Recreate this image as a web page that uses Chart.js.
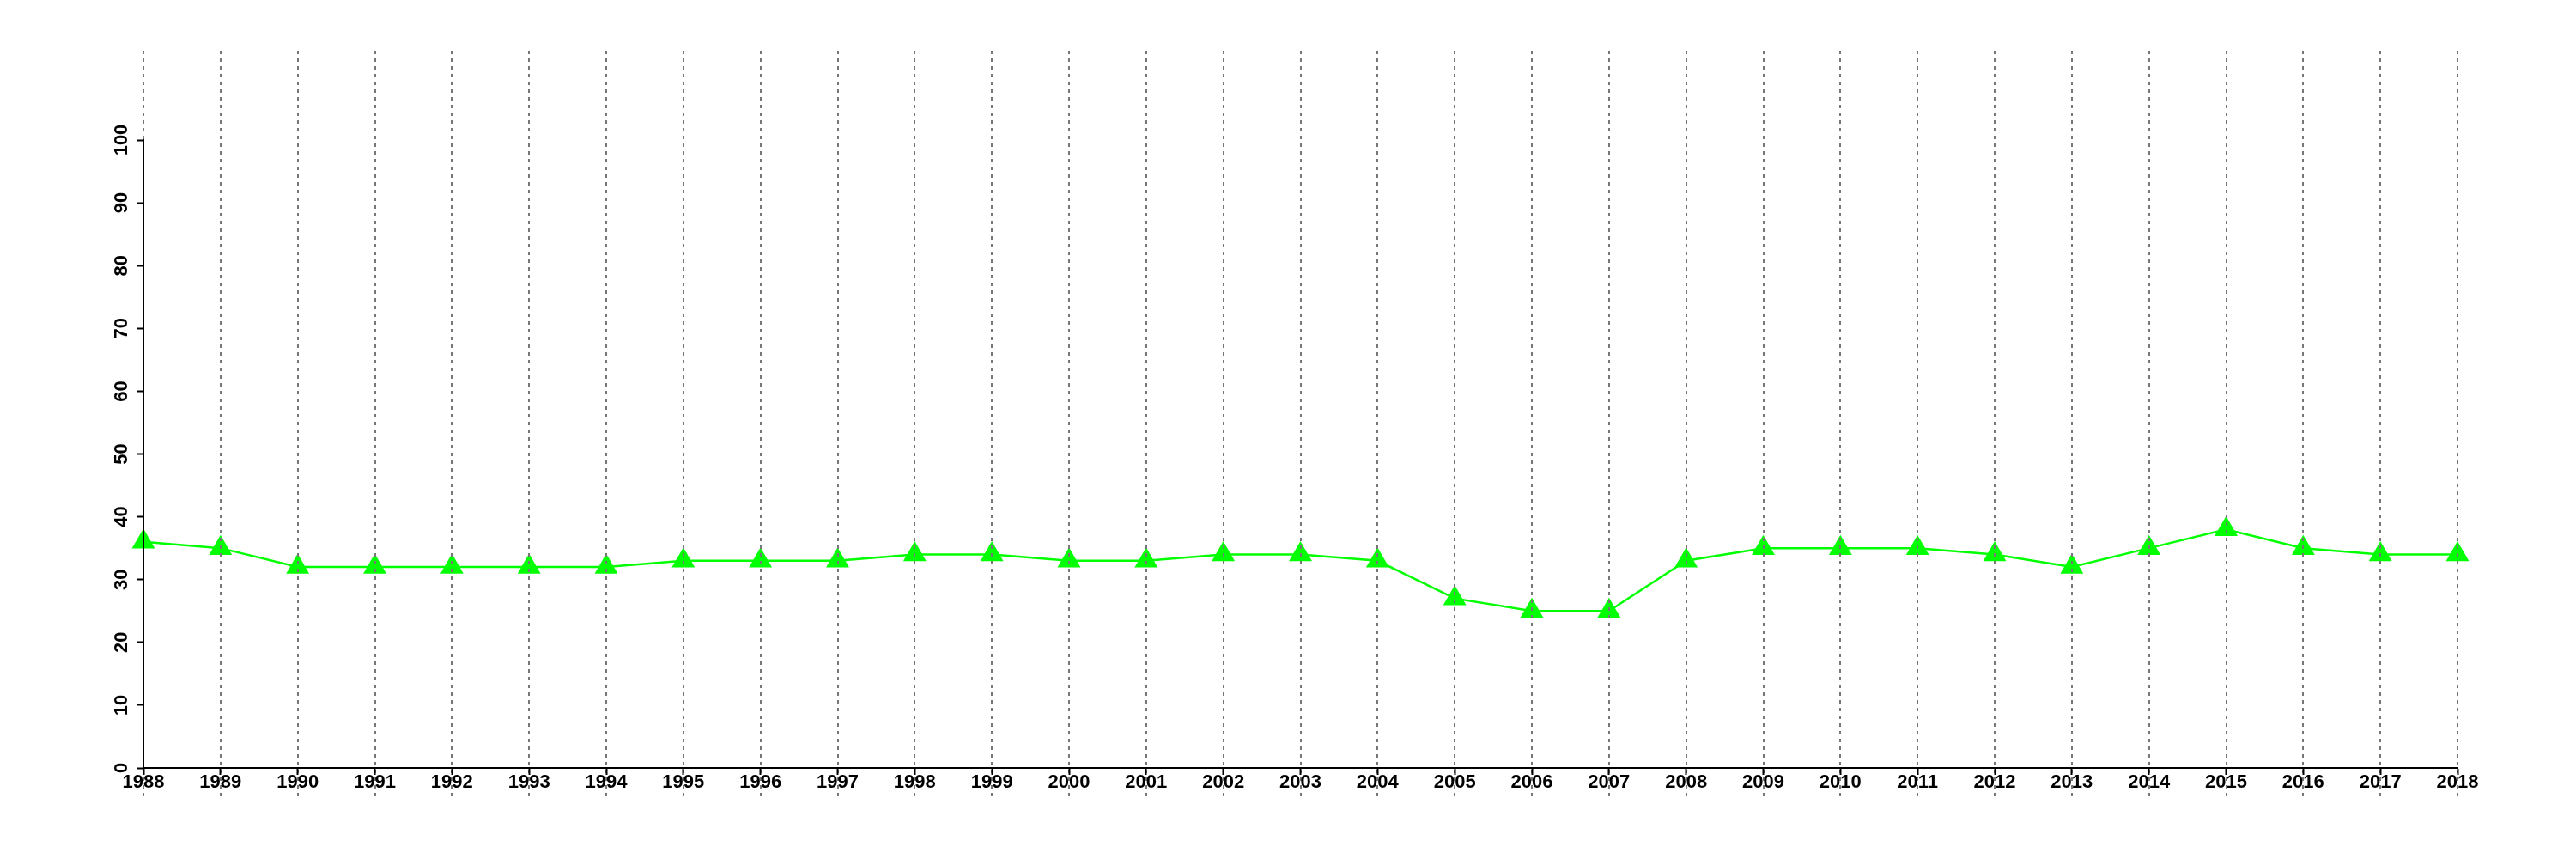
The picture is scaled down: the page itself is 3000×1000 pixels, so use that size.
<!DOCTYPE html>
<html>
<head>
<meta charset="utf-8">
<script src="https://cdn.jsdelivr.net/npm/chart.js@4/dist/chart.umd.min.js"></script>
<style>
  html, body { margin: 0; padding: 0; background: #ffffff; }
  #wrap { width: 3000px; height: 1000px; }
</style>
</head>
<body>
<div id="wrap"><canvas id="c" width="3000" height="1000"></canvas></div>
<script>
const years = ['1988','1989','1990','1991','1992','1993','1994','1995','1996','1997','1998','1999','2000','2001','2002','2003','2004','2005','2006','2007','2008','2009','2010','2011','2012','2013','2014','2015','2016','2017','2018'];
const values = [36,35,32,32,32,32,32,33,33,33,34,34,33,33,34,34,33,27,25,25,33,35,35,35,34,32,35,38,35,34,34];
const yMin = 0;
const yMax = 100;
const yStep = 10;

const extendedGrid = {
  id: 'extendedGrid',
  afterDatasetsDraw(chart) {
    const ctx = chart.ctx;
    const xs = chart.scales.x;
    ctx.save();
    ctx.strokeStyle = '#777777';
    ctx.lineWidth = 2;
    ctx.setLineDash([4, 5]);
    for (let i = 0; i < years.length; i++) {
      const px = Math.round(xs.getPixelForValue(i));
      ctx.beginPath();
      ctx.moveTo(px, 59);
      ctx.lineTo(px, 928);
      ctx.stroke();
    }
    ctx.restore();
  }
};

new Chart(document.getElementById('c'), {
  type: 'line',
  data: {
    labels: years,
    datasets: [{
      data: values,
      borderColor: '#00ff00',
      backgroundColor: '#00ff00',
      borderWidth: 2.5,
      pointStyle: 'triangle',
      pointRadius: 15.5,
      pointBorderWidth: 0,
      pointBackgroundColor: '#00ff00',
      tension: 0,
      fill: false
    }]
  },
  options: {
    responsive: false,
    devicePixelRatio: 1,
    animation: false,
    events: [],
    layout: { padding: { top: 163, right: 138, left: 0, bottom: 0 } },
    plugins: { legend: { display: false }, tooltip: { enabled: false } },
    scales: {
      x: {
        offset: false,
        afterFit(scale) { scale.height = 106; },
        grid: { z: 1, display: true, drawOnChartArea: false, drawTicks: true, tickLength: 8, tickColor: '#000000', tickWidth: 2 },
        border: { z: 2, display: true, color: '#000000', width: 2 },
        ticks: {
          z: 2,
          autoSkip: false, maxRotation: 0, minRotation: 0, padding: -4,
          color: '#000000',
          font: { family: 'Liberation Sans, Arial, sans-serif', size: 22, weight: 'bold' }
        }
      },
      y: {
        min: yMin, max: yMax,
        afterFit(scale) { scale.width = 167; },
        grid: { z: 1, display: true, drawOnChartArea: false, drawTicks: true, tickLength: 8, tickColor: '#000000', tickWidth: 2 },
        border: { z: 2, display: true, color: '#000000', width: 2 },
        ticks: {
          stepSize: yStep, minRotation: 90, maxRotation: 90,
          crossAlign: 'center', padding: -1,
          color: '#000000',
          font: { family: 'Liberation Sans, Arial, sans-serif', size: 22, weight: 'bold' }
        }
      }
    }
  },
  plugins: [extendedGrid]
});
</script>
</body>
</html>
